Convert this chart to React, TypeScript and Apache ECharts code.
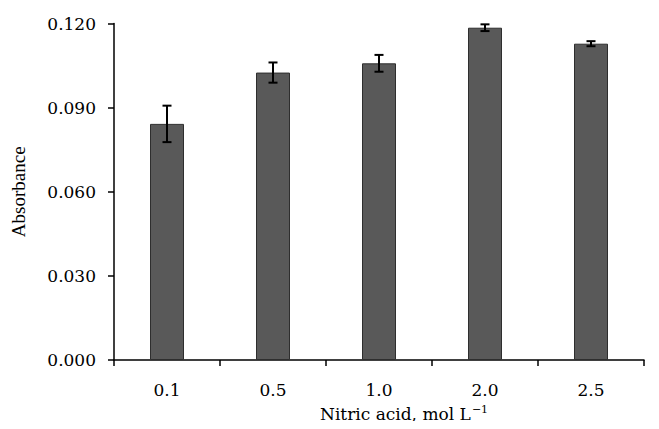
import React, { useEffect, useRef } from "react";
import * as echarts from "echarts";

const categories = ["0.1", "0.5", "1.0", "2.0", "2.5"];
const absorbance = [0.0842, 0.1025, 0.1058, 0.1185, 0.1128];
const errors = [0.0065, 0.0036, 0.003, 0.0012, 0.0009];
const yTicks = [0, 0.03, 0.06, 0.09, 0.12];

const FONT = "DejaVu Serif";
const NAME_FONT = "Liberation Serif";

export default function App() {
  const ref = useRef<HTMLDivElement>(null);
  useEffect(() => {
    if (!ref.current) return;
    const chart = echarts.init(ref.current, undefined, { renderer: "svg" });
    const errData = categories.map((_, i) => [i, absorbance[i] - errors[i], absorbance[i] + errors[i]]);
    chart.setOption({
      animation: false,
      backgroundColor: "#ffffff",
      grid: { left: 114, top: 23.5, width: 530, height: 336.5, containLabel: false },
      xAxis: {
        type: "category",
        data: categories,
        boundaryGap: true,
        axisLine: { lineStyle: { color: "#000", width: 1.5 } },
        axisTick: { show: true, length: 6, inside: false, lineStyle: { color: "#000", width: 1.5 } },
        axisLabel: { color: "#000", fontFamily: FONT, fontSize: 17, margin: 21, lineHeight: 18 },
        splitLine: { show: false },
      },
      yAxis: {
        type: "value",
        min: yTicks[0],
        max: yTicks[yTicks.length - 1],
        interval: 0.03,
        name: "Absorbance",
        nameLocation: "middle",
        nameRotate: 90,
        nameGap: 86,
        nameTextStyle: { color: "#000", fontFamily: NAME_FONT, fontSize: 19 },
        axisLine: { show: true, lineStyle: { color: "#000", width: 1.5 } },
        axisTick: { show: true, length: 6, inside: false, lineStyle: { color: "#000", width: 1.5 } },
        axisLabel: {
          color: "#000",
          fontFamily: FONT,
          fontSize: 17,
          margin: 18,
          formatter: (v: number) => v.toFixed(3),
        },
        splitLine: { show: false },
      },
      graphic: [
        {
          type: "text",
          left: 320,
          top: 404,
          style: {
            text: "Nitric acid, mol L{sup|−1}",
            fill: "#000",
            font: `17px ${FONT}`,
            rich: {
              sup: { fontFamily: FONT, fontSize: 11, verticalAlign: "top", padding: [0, 0, 8, 1], fill: "#000" },
            },
          },
        },
      ],
      series: [
        {
          type: "bar",
          data: absorbance,
          barWidth: 34,
          itemStyle: { color: "#595959", borderColor: "#2e2e2e", borderWidth: 1 },
        },
        {
          type: "custom",
          data: errData,
          z: 10,
          renderItem: (params: any, api: any) => {
            const x = api.coord([api.value(0), 0])[0];
            const lo = api.coord([api.value(0), api.value(1)])[1];
            const hi = api.coord([api.value(0), api.value(2)])[1];
            const hw = 4.5;
            const style = { stroke: "#000", lineWidth: 2 };
            return {
              type: "group",
              children: [
                { type: "line", shape: { x1: x, y1: lo, x2: x, y2: hi }, style },
                { type: "line", shape: { x1: x - hw, y1: lo, x2: x + hw, y2: lo }, style },
                { type: "line", shape: { x1: x - hw, y1: hi, x2: x + hw, y2: hi }, style },
              ],
            };
          },
        },
      ],
    });
    return () => chart.dispose();
  }, []);
  return <div ref={ref} style={{ width: 659, height: 429, margin: -8 }} />;
}
